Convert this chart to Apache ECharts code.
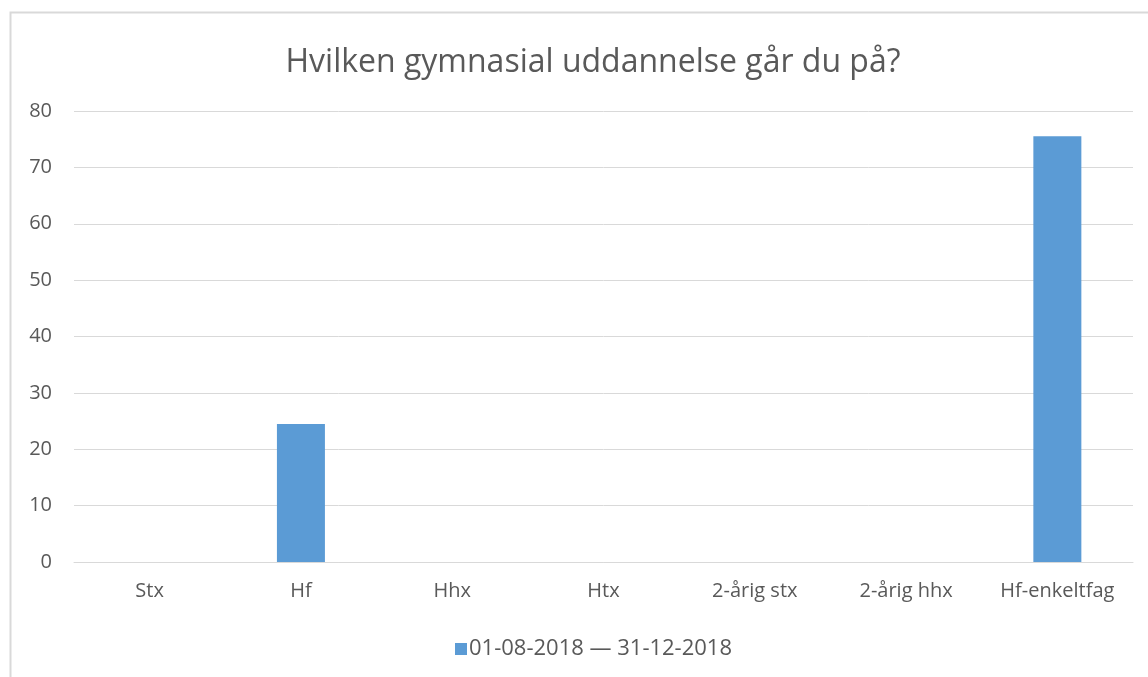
<!DOCTYPE html>
<html>
<head>
<meta charset="utf-8">
<script src="https://cdn.jsdelivr.net/npm/echarts@6/dist/echarts.min.js"></script>
<style>
html,body{margin:0;padding:0;background:#fff;}
#chart{width:1148px;height:677px;}
</style>
</head>
<body>
<div id="chart"></div>
<script>
const titleText = "Hvilken gymnasial uddannelse går du på?";
const categories = ["Stx", "Hf", "Hhx", "Htx", "2-årig stx", "2-årig hhx", "Hf-enkeltfag"];
const seriesName = "01-08-2018 — 31-12-2018";
const values = [0, 24.5, 0, 0, 0, 0, 75.5];
const yTicks = { min: 0, max: 80, interval: 10 };

const chart = echarts.init(document.getElementById('chart'), null, {renderer: 'canvas'});
const font = '"Open Sans", "Liberation Sans", sans-serif';
chart.setOption({
  animation: false,
  graphic: [{
    type: 'polyline',
    shape: { points: [[10.5, 700], [10.5, 12.5], [1200, 12.5]] },
    style: { stroke: '#d9d9d9', lineWidth: 2, fill: null },
    silent: true
  }],
  title: {
    text: titleText,
    left: 588, top: 42, textAlign: 'center',
    textStyle: { fontFamily: font, fontSize: 32, fontWeight: 'normal', color: '#595959' }
  },
  grid: { left: 74, right: 15, top: 111, bottom: 115, containLabel: false },
  legend: {
    data: [seriesName],
    left: 450, top: 633,
    itemWidth: 12, itemHeight: 12, itemGap: 4,
    icon: 'rect',
    textStyle: { fontFamily: font, fontSize: 22, color: '#595959', padding: [0, 0, 0, -3] }
  },
  xAxis: {
    type: 'category',
    data: categories,
    axisLine: { show: true, lineStyle: { color: '#d9d9d9', width: 1 } },
    axisTick: { show: false },
    axisLabel: { fontFamily: font, fontSize: 20, color: '#595959', margin: 19, interval: 0 }
  },
  yAxis: {
    type: 'value',
    min: yTicks.min, max: yTicks.max, interval: yTicks.interval,
    axisLine: { show: false },
    axisTick: { show: false },
    axisLabel: { fontFamily: font, fontSize: 20, color: '#595959', margin: 22 },
    splitLine: { lineStyle: { color: '#d9d9d9', width: 1 } }
  },
  series: [{
    name: seriesName,
    type: 'bar',
    data: values,
    barWidth: 48,
    itemStyle: { color: '#5b9bd5' }
  }]
});
</script>
</body>
</html>
